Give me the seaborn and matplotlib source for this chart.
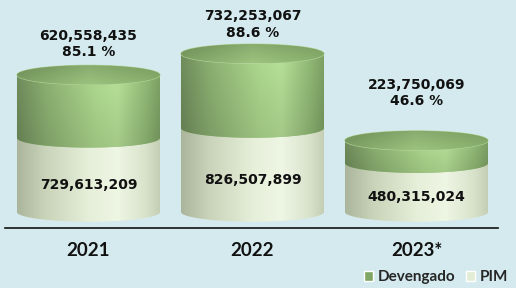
import numpy as np
import pandas as pd
import matplotlib
matplotlib.use("Agg")
import matplotlib.pyplot as plt
import seaborn as sns
from matplotlib.path import Path
from matplotlib.patches import PathPatch, Ellipse, Patch
from matplotlib.colors import LinearSegmentedColormap

# data
years = ["2021", "2022", "2023*"]
pim = [729613209, 826507899, 480315024]
devengado = [620558435, 732253067, 223750069]
pct = [85.1, 88.6, 46.6]

df = pd.DataFrame({"year": years, "pim": pim, "dev": devengado})
df["total"] = df["pim"] + df["dev"]

BG = "#D4EAEE"
sns.set_theme(style="white", rc={"axes.facecolor": BG, "figure.facecolor": BG})
plt.rcParams["font.family"] = ["DejaVu Sans"]

fig = plt.figure(figsize=(5.16, 2.88), dpi=100)
ax = fig.add_axes([5 / 516, 60 / 288, 493 / 516, 228 / 288])

sns.barplot(data=df, x="year", y="total", color="#9CC27F", width=0.872,
            saturation=1, errorbar=None, ax=ax)
sns.barplot(data=df, x="year", y="pim", color="#E6EFD8", width=0.872,
            saturation=1, errorbar=None, ax=ax)

B = 95e6  # half height of the ellipses, data units

dev_stops = [(0, "#6B8758"), (0.2, "#86A96D"), (0.55, "#A8D189"),
             (0.7, "#B0D892"), (0.9, "#8BB271"), (1, "#779960")]
pim_stops = [(0, "#AAB59C"), (0.2, "#C9D4BA"), (0.5, "#E6EFD9"),
             (0.7, "#EEF6E4"), (0.9, "#D8E2CA"), (1, "#C2CDB3")]
top_stops = [(0, "#789A60"), (0.5, "#94BA78"), (1, "#83A968")]


def body_path(x0, w, y0, y1):
    xc, a = x0 + w / 2, w / 2
    t = np.linspace(np.pi, 2 * np.pi, 80)
    pts = [(x0, y1), (x0, y0)]
    pts += list(zip(xc + a * np.cos(t), y0 + B * np.sin(t)))
    pts += [(x0 + w, y1), (x0, y1)]
    return Path(pts, closed=True)


def shade(patch, extent, stops, z, vert=(1.0, 1.0)):
    cmap = LinearSegmentedColormap.from_list("c", stops)
    img = cmap(np.linspace(0, 1, 256))[None, :, :3]
    fac = np.linspace(vert[0], vert[1], 64)[:, None, None]
    img = np.clip(img * fac, 0, 1)
    im = ax.imshow(img, extent=extent, aspect="auto", origin="lower",
                   interpolation="bicubic", zorder=z)
    im.set_clip_path(patch)


bars = ax.patches[:]
tot_bars, pim_bars = bars[:3], bars[3:]
for i, (tb, pb) in enumerate(zip(tot_bars, pim_bars)):
    x0, w = tb.get_x(), tb.get_width()
    p = pb.get_height()
    t = tb.get_height()
    tb.set_visible(False)
    pb.set_visible(False)
    z = 2 + i * 0.1

    pp = PathPatch(body_path(x0, w, 0, p), facecolor="#E6EFD8", lw=0, zorder=z)
    ax.add_patch(pp)
    shade(pp, (x0, x0 + w, -B, p), pim_stops, z)

    dp = PathPatch(body_path(x0, w, p, t), facecolor="#9CC27F", lw=0, zorder=z + 0.01)
    ax.add_patch(dp)
    shade(dp, (x0, x0 + w, p - B, t), dev_stops, z + 0.01, vert=(0.93, 1.04))

    top = Ellipse((x0 + w / 2, t), w, 2 * B, facecolor="#8DB174",
                  edgecolor="#B5D69C", lw=0.8, zorder=z + 0.02)
    ax.add_patch(top)
    shade(top, (x0, x0 + w, t - B, t + B), top_stops, z + 0.02, vert=(1.05, 0.92))

# labels
top_off = [22, 21, 34]
for i, tb in enumerate(tot_bars):
    xc = tb.get_x() + tb.get_width() / 2
    ax.annotate(f"{devengado[i]:,}\n{pct[i]} %", xy=(xc, df["total"][i]),
                xytext=(0, top_off[i]), textcoords="offset points",
                ha="center", va="center", fontsize=10, fontweight="bold",
                linespacing=1.2, color="#111111", zorder=10)
    ax.annotate(f"{pim[i]:,}", xy=(xc, pim[i] / 2), xytext=(0, -7),
                textcoords="offset points", ha="center", va="center",
                fontsize=10, fontweight="bold", color="#111111", zorder=10)

ax.set_xlim(-0.509, 2.497)
ax.set_ylim(-157.6e6, 2088e6)
ax.set_yticks([])
ax.set_xlabel("")
ax.set_ylabel("")
for s in ["top", "left", "right"]:
    ax.spines[s].set_visible(False)
ax.spines["bottom"].set_color("#111111")
ax.spines["bottom"].set_linewidth(1.2)
ax.tick_params(axis="x", length=0, pad=10)
for lab in ax.get_xticklabels():
    lab.set_fontfamily("Lato")
    lab.set_fontweight("bold")
    lab.set_fontsize(13.5)
    lab.set_color("#111111")

handles = [Patch(facecolor="#7FA665", label="Devengado"),
           Patch(facecolor="#E3EDD5", label="PIM")]
fig.legend(handles=handles, loc="lower right", bbox_to_anchor=(1.012, -0.035),
           ncol=2, frameon=False, handlelength=0.6, handleheight=0.6,
           columnspacing=0.7, handletextpad=0.3,
           prop={"family": "Lato", "weight": "bold", "size": 11})

fig.savefig("out.png", dpi=100, facecolor=BG)
